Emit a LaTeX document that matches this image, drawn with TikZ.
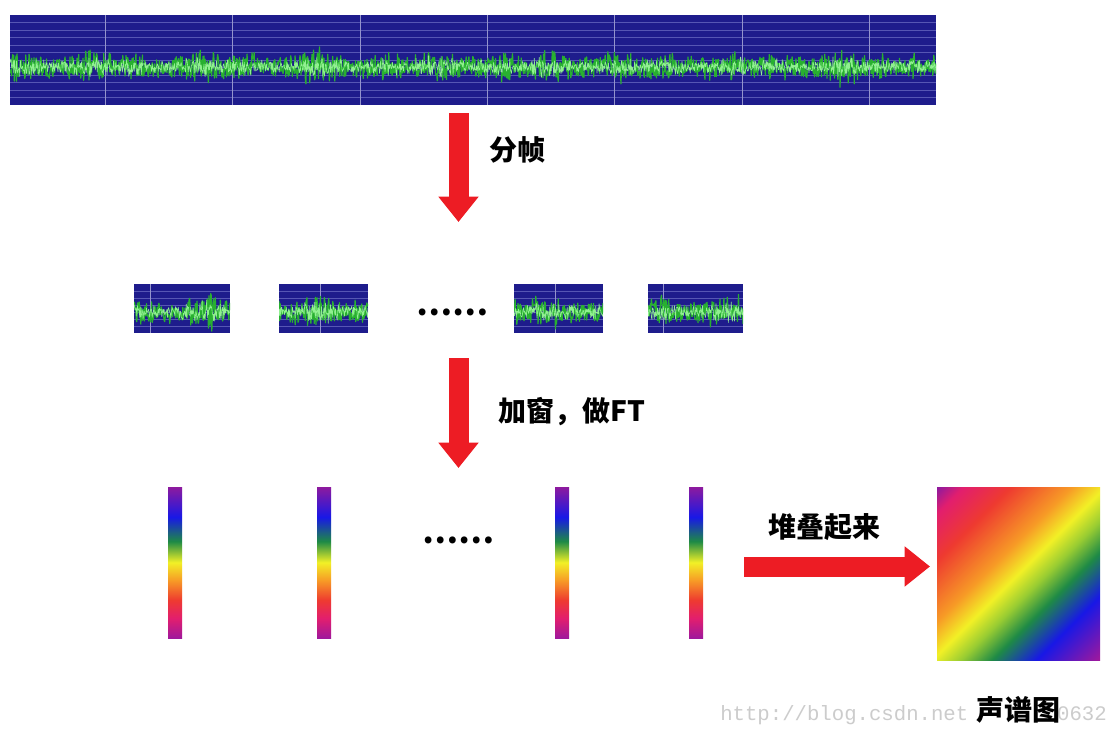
\documentclass[tikz,border=0pt]{standalone}
\usepackage{fontspec}
\usetikzlibrary{arrows.meta}
\newfontfamily\cjk{Noto Sans CJK SC}
\newfontfamily\wmfont{Liberation Mono}
\definecolor{panelblue}{HTML}{1E1C8C}
\definecolor{gridcol}{HTML}{5656B4}
\definecolor{vgridcol}{HTML}{9494CC}
\definecolor{wavedark}{HTML}{28B030}
\definecolor{wavelight}{HTML}{90F090}
\definecolor{arrowred}{HTML}{ED1C24}
\definecolor{cpurT}{HTML}{8E1A9E}
\definecolor{cblue}{HTML}{1818E6}
\definecolor{cgreen}{HTML}{1E8A46}
\definecolor{cyellow}{HTML}{F2F026}
\definecolor{corange}{HTML}{F79A26}
\definecolor{cred}{HTML}{EE3A30}
\definecolor{cpink}{HTML}{E21E6E}
\definecolor{cpurB}{HTML}{A0189C}
\definecolor{cygreen}{HTML}{9ACD32}
\pgfdeclareverticalshading{specbar}{100bp}{color(0bp)=(cpurB); color(25bp)=(cpurB); color(31.5bp)=(cpink); color(37.5bp)=(cred); color(44bp)=(corange); color(50bp)=(cyellow); color(57bp)=(cgreen); color(65bp)=(cblue); color(75bp)=(cpurT); color(100bp)=(cpurT)}
\pgfdeclarehorizontalshading{specsq}{100bp}{color(0bp)=(cpurT); color(14.6bp)=(cpurT); color(20bp)=(cpink); color(30bp)=(cred); color(42.9bp)=(corange); color(50bp)=(cyellow); color(56bp)=(cygreen); color(62.7bp)=(cgreen); color(72bp)=(cblue); color(85.4bp)=(cpurB); color(100bp)=(cpurB)}
\newcommand\wavepanel[8]{%
  \fill[panelblue] (#1,#2) rectangle (#3,#4);
  \begin{scope}
    \clip (#1,#2) rectangle (#3,#4);
    \foreach \k in {1,...,#7} \draw[gridline] (#1,{#2+\k*(#4-#2)/(#7+1)}) -- (#3,{#2+\k*(#4-#2)/(#7+1)});
    \foreach \vx in {#8} \draw[vgridline] (\vx,#2) -- (\vx,#4);
    \draw[wavedk] plot[domain=#1:#3,samples=#6] (\x,{#5+rand*(7+15*rnd*(0.3+0.7*abs(sin(\x*3.1)*cos(\x*1.7))))});
    \draw[wavelt] plot[domain=#1:#3,samples=#6] (\x,{#5+rand*(4+9*rnd*(0.3+0.7*abs(sin(\x*3.1)*cos(\x*1.7))))});
  \end{scope}}
\tikzset{
  gridline/.style={draw=gridcol,line width=0.5pt},
  vgridline/.style={draw=vgridcol,line width=0.6pt},
  wavedk/.style={draw=wavedark,line width=0.9pt,line join=round},
  wavelt/.style={draw=wavelight,line width=0.45pt,line join=round},
  bigarrow/.style={draw=arrowred,line width=15pt,-{Triangle[width=29pt,length=19pt]}},
  lbl/.style={font=\cjk\bfseries\fontsize{21}{24}\selectfont,text=black,inner sep=0pt},
  dotlbl/.style={font=\cjk\bfseries\fontsize{24}{26}\selectfont,text=black,inner sep=0pt},
  specbarst/.style={shading=specbar},
}
\begin{document}
\begin{tikzpicture}[x=0.75pt,y=-0.75pt]
\useasboundingbox[fill=white] (0,0) rectangle (1107,732);
\pgfmathsetseed{4242}
% top waveform
\wavepanel{10}{15}{936}{105}{67}{1700}{11}{105,232,360,487,614,742,869}
% small frames
\wavepanel{134}{284}{230}{333}{312}{170}{6}{150}
\wavepanel{279}{284}{368}{333}{312}{160}{6}{320}
\wavepanel{514}{284}{603}{333}{312}{160}{6}{555}
\wavepanel{648}{284}{743}{333}{312}{170}{6}{663}
\node[dotlbl] (dots1) at (452,312) {……};
% arrow 1
\coordinate (a1s) at (458.5,113);
\coordinate (a1e) at (458.5,222);
\draw[bigarrow] (a1s) -- (a1e);
\node[lbl,anchor=west] (fenzhen) at (489,150) {分帧};
% arrow 2
\coordinate (a2s) at (458.5,358);
\coordinate (a2e) at (458.5,468);
\draw[bigarrow] (a2s) -- (a2e);
\node[lbl,anchor=west] (jiachuang) at (498,412) {加窗，做FT};
% spectral bars
\foreach \bx in {168,317,555,689}
  \shade[specbarst] (\bx,487) rectangle (\bx+14,638);
\node[dotlbl] (dots2) at (458,540) {……};
% arrow 3
\coordinate (a3s) at (744,566.5);
\coordinate (a3e) at (930,566.5);
\draw[bigarrow] (a3s) -- (a3e);
\node[lbl] (duidie) at (824,527) {堆叠起来};
% watermark
\node[font=\wmfont\fontsize{15.5}{16}\selectfont,text=black!20,anchor=base west,inner sep=0pt] (wm1) at (720,720) {http://blog.csdn.net};
\node[font=\wmfont\fontsize{15.5}{16}\selectfont,text=black!20,anchor=base east,inner sep=0pt] (wm2) at (1107,720) {0632};
% spectrogram square
\shade[shading=specsq,shading angle=-45] (937,487) rectangle (1100,660);
\node[lbl] (shengpu) at (1018,710) {声谱图};
\end{tikzpicture}
\end{document}
